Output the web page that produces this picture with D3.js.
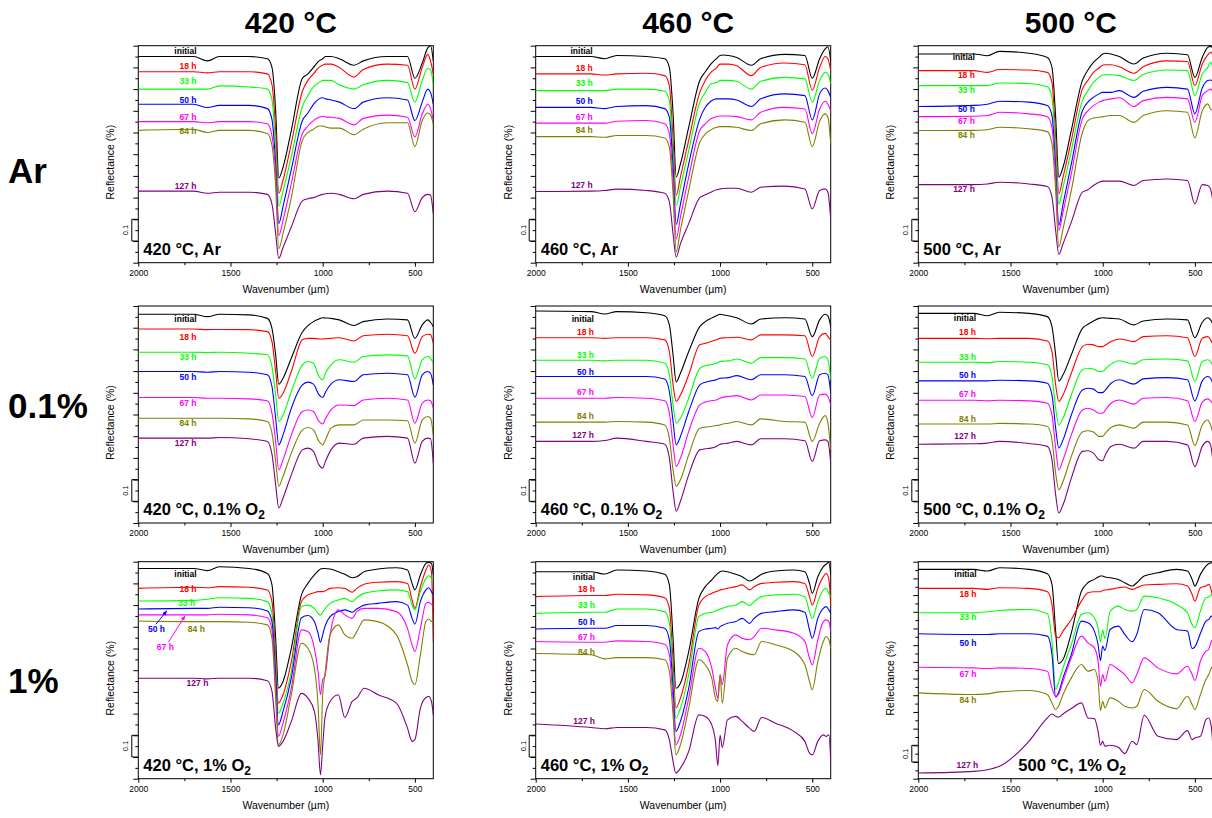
<!DOCTYPE html>
<html>
<head>
<meta charset="utf-8">
<script src="https://cdn.jsdelivr.net/npm/d3@7"></script>
<style>
  body { margin: 0; background: #fff; }
  text { font-family: Arial, "Liberation Sans", sans-serif; }
</style>
</head>
<body>
<svg id="chart" width="1212" height="818"></svg>
<script>
// column / row headings and curve names
var temps = ["420 °C", "460 °C", "500 °C"];
var atmos = ["Ar", "0.1%", "1%"];
var gasLabel = ["Ar", "0.1% O", "1% O"];
var times = ["initial", "18 h", "33 h", "50 h", "67 h", "84 h", "127 h"];
var colors = ["#000000", "#ff0000", "#00ff00", "#0000ff", "#ff00ff", "#808000", "#800080"];

// wavenumber grids the spectra were read on
var wnA = [2000,1700,1625,1560,1400,1300,1275,1255,1238,1215,1170,1110,1080,1050,1020,1000,985,955,910,830,780,650,540,500,460,430,415,400];
var wnB = [2000,1700,1625,1560,1400,1300,1275,1255,1240,1215,1170,1115,1080,1045,1025,1012,1000,988,960,915,880,840,815,775,700,600,540,515,500,470,440,425,410,400];

// Ar, read on wnA (order: initial, 18, 33, 50, 67, 84, 127 h)
var ar420 = [
  [.95,.95,.93,.95,.95,.94,.90,.70,.39,.44,.61,.85,.87,.90,.93,.94,.95,.95,.94,.91,.93,.95,.95,.85,.92,.99,1.0,.93],
  [.88,.88,.875,.88,.88,.87,.82,.61,.32,.38,.55,.79,.84,.87,.90,.91,.915,.915,.90,.855,.89,.915,.91,.80,.90,.96,.93,.87],
  [.80,.80,.80,.815,.81,.80,.75,.53,.26,.33,.49,.72,.77,.81,.83,.84,.84,.84,.82,.80,.82,.84,.83,.74,.84,.895,.89,.82],
  [.73,.73,.715,.725,.725,.71,.66,.455,.18,.26,.43,.655,.69,.73,.755,.76,.755,.75,.74,.71,.74,.76,.75,.655,.74,.80,.785,.73],
  [.65,.65,.645,.65,.65,.64,.585,.41,.125,.195,.365,.595,.63,.655,.67,.675,.672,.67,.665,.635,.665,.68,.67,.58,.685,.73,.71,.655],
  [.61,.615,.60,.61,.61,.595,.54,.35,.065,.135,.30,.565,.60,.615,.63,.63,.625,.62,.62,.59,.615,.645,.645,.535,.655,.69,.68,.64],
  [.33,.33,.32,.325,.325,.315,.27,.135,.02,.07,.165,.285,.295,.30,.31,.315,.318,.32,.315,.295,.315,.33,.32,.235,.30,.315,.31,.225]
];
var ar460 = [
  [.95,.95,.94,.955,.95,.94,.90,.69,.395,.455,.625,.84,.88,.915,.94,.955,.957,.955,.946,.91,.94,.96,.955,.85,.94,.985,.995,.93],
  [.87,.87,.865,.87,.873,.862,.815,.565,.31,.395,.565,.785,.84,.877,.897,.915,.915,.915,.908,.862,.90,.92,.912,.795,.90,.95,.94,.885],
  [.793,.793,.793,.80,.80,.79,.747,.50,.264,.348,.517,.74,.785,.824,.83,.84,.84,.84,.836,.80,.836,.854,.847,.74,.84,.877,.87,.824],
  [.716,.716,.71,.72,.724,.71,.67,.44,.176,.27,.455,.663,.716,.744,.755,.755,.755,.755,.75,.72,.755,.778,.77,.658,.778,.805,.793,.762],
  [.643,.643,.643,.652,.655,.64,.594,.38,.11,.21,.394,.61,.64,.663,.673,.676,.676,.676,.673,.658,.693,.716,.708,.594,.708,.744,.73,.70],
  [.581,.581,.578,.586,.586,.575,.532,.317,.05,.15,.333,.555,.594,.612,.624,.627,.627,.627,.624,.609,.64,.658,.647,.535,.652,.686,.67,.548],
  [.328,.33,.333,.339,.333,.32,.28,.133,.026,.087,.18,.30,.313,.325,.336,.34,.342,.343,.343,.325,.348,.353,.34,.248,.333,.34,.325,.20]
];
var ar500 = [
  [.962,.962,.954,.974,.965,.946,.90,.67,.394,.44,.61,.84,.888,.923,.946,.962,.965,.962,.95,.916,.943,.965,.958,.854,.946,.992,.997,.985],
  [.885,.885,.877,.89,.888,.877,.83,.578,.317,.394,.563,.80,.84,.877,.897,.91,.912,.912,.903,.873,.903,.93,.927,.816,.916,.958,.97,.954],
  [.816,.816,.816,.828,.826,.811,.762,.517,.268,.348,.517,.747,.793,.831,.854,.865,.866,.866,.862,.84,.867,.888,.885,.77,.87,.90,.923,.893],
  [.72,.725,.73,.744,.74,.724,.678,.44,.172,.27,.455,.70,.74,.762,.778,.785,.785,.785,.793,.762,.79,.808,.80,.686,.805,.84,.842,.83],
  [.673,.675,.678,.693,.686,.673,.624,.394,.149,.233,.41,.663,.70,.724,.74,.747,.75,.755,.76,.72,.747,.762,.755,.647,.77,.793,.80,.785],
  [.609,.61,.613,.624,.617,.604,.548,.333,.072,.156,.333,.60,.655,.667,.67,.673,.675,.678,.678,.647,.678,.70,.693,.575,.70,.732,.709,.70],
  [.36,.36,.363,.371,.363,.351,.302,.149,.038,.087,.187,.325,.336,.356,.371,.376,.376,.376,.376,.356,.379,.386,.379,.271,.36,.356,.34,.271]
];

// 0.1% O2, read on wnA
var o01_420 = [
  [.962,.962,.951,.962,.959,.943,.897,.775,.64,.667,.76,.88,.91,.928,.94,.946,.945,.943,.936,.91,.928,.94,.936,.851,.913,.936,.925,.905],
  [.894,.894,.891,.892,.891,.882,.836,.698,.575,.598,.698,.844,.851,.851,.848,.848,.849,.851,.854,.839,.863,.87,.863,.782,.859,.87,.868,.828],
  [.787,.787,.786,.787,.782,.775,.721,.59,.468,.498,.606,.729,.744,.736,.675,.66,.69,.729,.752,.741,.767,.775,.77,.664,.752,.767,.759,.736],
  [.698,.698,.695,.698,.695,.683,.629,.483,.36,.406,.529,.636,.649,.64,.59,.578,.603,.64,.66,.652,.683,.69,.683,.58,.683,.698,.69,.636],
  [.578,.578,.575,.575,.572,.563,.506,.376,.245,.291,.406,.514,.521,.514,.468,.456,.48,.521,.544,.541,.567,.575,.567,.46,.552,.567,.563,.529],
  [.483,.483,.483,.483,.48,.468,.414,.284,.169,.215,.322,.429,.44,.429,.376,.36,.383,.437,.452,.452,.475,.475,.471,.368,.475,.491,.483,.406],
  [.391,.391,.391,.394,.388,.376,.317,.176,.069,.115,.222,.337,.345,.33,.268,.253,.284,.337,.368,.363,.391,.399,.391,.276,.376,.391,.388,.276]
];
var o01_460 = [
  [.977,.974,.963,.974,.969,.955,.913,.775,.65,.69,.79,.905,.928,.943,.955,.962,.960,.955,.946,.917,.94,.946,.94,.859,.936,.962,.955,.905],
  [.854,.854,.851,.854,.854,.844,.79,.637,.56,.59,.683,.821,.828,.836,.844,.851,.853,.854,.856,.844,.867,.867,.863,.767,.859,.874,.859,.844],
  [.75,.75,.747,.75,.75,.736,.683,.544,.46,.483,.575,.713,.725,.729,.736,.744,.746,.747,.756,.736,.762,.762,.756,.667,.759,.767,.752,.66],
  [.675,.675,.675,.675,.675,.664,.606,.468,.36,.399,.514,.636,.649,.655,.66,.667,.668,.67,.679,.66,.683,.683,.675,.587,.683,.69,.683,.598],
  [.575,.575,.575,.578,.575,.563,.506,.36,.261,.299,.422,.544,.557,.563,.567,.575,.579,.583,.587,.567,.59,.59,.583,.486,.59,.594,.583,.544],
  [.465,.465,.465,.468,.465,.452,.391,.245,.169,.199,.314,.437,.442,.445,.449,.452,.456,.46,.468,.452,.48,.468,.465,.376,.46,.495,.46,.337],
  [.376,.376,.38,.391,.376,.363,.299,.146,.054,.10,.222,.337,.342,.345,.353,.363,.365,.368,.376,.36,.388,.388,.379,.284,.379,.383,.376,.276]
];
var o01_500 = [
  [.966,.966,.955,.971,.966,.951,.905,.775,.655,.683,.775,.897,.916,.931,.943,.946,.945,.943,.94,.913,.931,.94,.936,.854,.925,.946,.936,.913],
  [.851,.851,.849,.851,.851,.839,.79,.637,.56,.59,.69,.813,.824,.821,.813,.813,.82,.836,.848,.836,.859,.863,.854,.767,.851,.859,.844,.82],
  [.741,.741,.739,.744,.741,.729,.675,.529,.452,.483,.59,.706,.713,.71,.698,.698,.71,.732,.748,.732,.752,.756,.747,.652,.744,.752,.744,.721],
  [.655,.655,.655,.658,.655,.644,.59,.437,.345,.383,.498,.613,.621,.617,.601,.601,.613,.644,.66,.64,.664,.67,.66,.563,.655,.675,.667,.636],
  [.566,.566,.563,.566,.563,.552,.498,.345,.245,.291,.406,.521,.529,.521,.506,.506,.521,.552,.567,.548,.575,.578,.563,.468,.557,.572,.563,.544],
  [.456,.456,.456,.459,.456,.445,.383,.23,.153,.192,.307,.419,.425,.419,.399,.399,.414,.44,.452,.437,.465,.465,.452,.357,.452,.475,.452,.406],
  [.363,.365,.368,.376,.366,.353,.291,.13,.046,.084,.207,.33,.333,.322,.291,.287,.314,.353,.363,.345,.376,.376,.36,.26,.353,.376,.36,.268]
];

// 1% O2, read on wnB
var o1_420 = [
  [.969,.969,.959,.977,.969,.946,.893,.647,.417,.448,.601,.847,.90,.939,.957,.966,.969,.969,.966,.954,.942,.926,.931,.954,.966,.972,.962,.90,.87,.939,.992,.997,.992,.939],
  [.877,.882,.88,.885,.882,.87,.816,.571,.348,.387,.54,.816,.847,.857,.862,.862,.862,.865,.877,.88,.877,.859,.877,.896,.905,.908,.90,.824,.785,.885,.962,.985,.954,.632],
  [.819,.822,.827,.834,.831,.816,.762,.525,.302,.348,.494,.793,.80,.785,.762,.755,.767,.782,.808,.824,.831,.816,.834,.854,.865,.87,.862,.80,.778,.862,.923,.936,.923,.908],
  [.782,.785,.785,.79,.788,.773,.724,.479,.248,.31,.463,.742,.752,.724,.67,.629,.663,.701,.747,.77,.778,.767,.782,.80,.808,.816,.80,.739,.712,.816,.87,.88,.862,.847],
  [.755,.755,.755,.758,.755,.742,.686,.417,.195,.256,.417,.686,.678,.601,.494,.387,.456,.471,.663,.778,.755,.739,.77,.785,.785,.77,.693,.617,.586,.693,.808,.813,.804,.80],
  [.727,.724,.724,.724,.721,.709,.647,.371,.156,.202,.387,.624,.601,.509,.34,.11,.387,.479,.663,.709,.663,.647,.678,.732,.724,.663,.525,.448,.433,.571,.724,.736,.724,.74],
  [.463,.463,.46,.463,.463,.451,.402,.233,.149,.172,.264,.393,.371,.31,.172,.018,.15,.279,.356,.387,.282,.356,.371,.417,.387,.348,.233,.172,.18,.325,.374,.379,.356,.294]
];
var o1_460 = [
  [.954,.954,.943,.962,.957,.942,.893,.647,.417,.44,.586,.831,.885,.916,.936,.946,.954,.957,.954,.942,.931,.911,.92,.942,.957,.962,.954,.90,.854,.931,.977,.988,.997,.939],
  [.839,.844,.844,.85,.847,.834,.785,.54,.325,.371,.525,.80,.839,.854,.862,.865,.87,.872,.877,.885,.893,.87,.885,.90,.905,.908,.90,.839,.80,.877,.931,.946,.92,.80],
  [.762,.767,.767,.782,.782,.77,.716,.479,.279,.325,.479,.747,.762,.767,.773,.778,.782,.785,.793,.80,.816,.798,.816,.839,.847,.85,.839,.77,.739,.816,.87,.877,.854,.839],
  [.69,.693,.693,.706,.706,.693,.64,.417,.218,.264,.417,.678,.69,.693,.696,.69,.701,.706,.716,.724,.739,.716,.739,.762,.77,.778,.767,.686,.647,.739,.785,.793,.778,.762],
  [.632,.629,.629,.635,.632,.62,.571,.356,.156,.202,.371,.601,.586,.509,.417,.371,.479,.433,.617,.663,.647,.64,.655,.693,.686,.67,.632,.555,.525,.64,.724,.732,.724,.678],
  [.577,.571,.552,.558,.558,.548,.494,.294,.11,.156,.325,.548,.525,.463,.371,.356,.479,.348,.555,.601,.586,.574,.571,.632,.617,.586,.525,.448,.41,.54,.632,.655,.64,.601],
  [.252,.236,.23,.236,.236,.225,.179,.08,.026,.049,.126,.294,.287,.248,.172,.061,.20,.144,.271,.287,.264,.233,.218,.282,.256,.218,.172,.118,.11,.172,.202,.195,.202,.087]
];
var o1_500 = [
  [1.254,1.254,1.244,1.264,1.254,1.228,1.164,.884,.69,.714,.874,1.124,1.174,1.194,1.208,1.214,1.214,1.208,1.204,1.194,1.174,1.154,1.174,1.214,1.234,1.254,1.244,1.194,1.154,1.224,1.274,1.288,1.294,1.274],
  [1.14,1.14,1.134,1.144,1.14,1.12,1.044,.854,.844,.884,.954,1.064,1.114,1.12,1.12,1.12,1.128,1.13,1.134,1.144,1.148,1.134,1.144,1.16,1.164,1.168,1.154,1.104,1.064,1.144,1.154,1.164,1.124,1.064],
  [.994,.994,1.0,1.008,1.014,.988,.824,.534,.574,.664,.804,.984,.994,.964,.904,.82,.89,.84,1.0,1.034,1.014,1.004,1.014,1.094,1.084,1.044,.994,.924,.904,1.004,1.084,1.088,1.104,1.114],
  [.868,.864,.864,.868,.868,.854,.744,.488,.514,.604,.744,.944,.934,.884,.804,.708,.794,.768,.894,.914,.864,.82,.864,1.014,.994,.894,.884,.78,.79,.87,.944,.954,.974,.974],
  [.668,.664,.66,.664,.66,.644,.544,.494,.504,.584,.724,.854,.814,.784,.704,.554,.624,.584,.684,.654,.624,.574,.624,.724,.664,.628,.674,.624,.588,.704,.764,.774,.824,.834],
  [.514,.504,.508,.52,.528,.504,.454,.414,.434,.504,.604,.684,.644,.654,.584,.408,.464,.424,.484,.464,.434,.424,.434,.534,.464,.42,.494,.444,.414,.504,.594,.624,.664,.674],
  [.034,.044,.054,.074,.224,.364,.388,.374,.368,.388,.42,.454,.364,.36,.284,.20,.224,.194,.20,.188,.15,.224,.204,.38,.254,.234,.288,.234,.244,.254,.354,.364,.304,.144]
];

// y-range of each panel (the 500 °C, 1% one is taller)
var yMax = [1, 1, 1, 1, 1, 1, 1, 1, 1.3];

// curve label anchors (wavenumber of right end, reflectance)
var lblWn = [
  [1684,1684,1684,1684,1684,1684,1684],
  [1691,1691,1691,1691,1691,1691,1691],
  [1693,1693,1693,1693,1693,1693,1693],
  [1684,1684,1684,1684,1684,1684,1684],
  [1684,1684,1684,1684,1684,1684,1684],
  [1687,1687,1687,1687,1687,1687,1687],
  [1684,1684,1692,1855,1807,1639,1620],
  [1678,1678,1678,1678,1678,1678,1678],
  [1684,1684,1684,1684,1684,1684,1675]
];
var lblVal = [
  [.974,.908,.836,.75,.673,.609,.353],
  [.974,.896,.827,.744,.673,.612,.359],
  [.946,.865,.796,.709,.655,.59,.339],
  [.939,.856,.764,.672,.552,.46,.368],
  [.939,.882,.775,.695,.603,.495,.406],
  [.943,.882,.767,.683,.595,.479,.399],
  [.943,.873,.811,.689,.609,.69,.44],
  [.928,.873,.80,.724,.655,.586,.264],
  [1.224,1.104,.97,.814,.63,.47,.08]
];
// pointer arrows in the 420 °C, 1% panel: [wn1, v1, wn2, v2, curve index]
var arrows = [[1904, .712, 1846, .773, 3], [1837, .629, 1747, .75, 4]];

var spectra = [ar420, ar460, ar500, o01_420, o01_460, o01_500, o1_420, o1_460, o1_500];

var svg = d3.select("#chart");
var colX = [138.3, 535.7, 918.3];
var rowY = [45.7, 306, 561.7];
var pw = 295, ph = 217;

var defs = svg.append("defs");
colors.forEach(function (c, i) {
  defs.append("marker")
      .attr("id", "arr" + i)
      .attr("viewBox", "0 0 10 10")
      .attr("refX", 9).attr("refY", 5)
      .attr("markerWidth", 5).attr("markerHeight", 5)
      .attr("orient", "auto")
    .append("path")
      .attr("d", "M0,1L10,5L0,9Z")
      .attr("fill", c);
});

// headings
svg.selectAll(".colTitle")
    .data(temps)
    .enter().append("text")
    .attr("class", "colTitle")
    .attr("x", function (d, i) { return colX[i] + pw / 2 + 5; })
    .attr("y", 33)
    .attr("text-anchor", "middle")
    .attr("font-weight", "bold")
    .attr("font-size", 30)
    .text(function (d) { return d; });

var rowBase = [183, 418, 693];
svg.selectAll(".rowTitle")
    .data(atmos)
    .enter().append("text")
    .attr("class", "rowTitle")
    .attr("x", 8)
    .attr("y", function (d, i) { return rowBase[i]; })
    .attr("font-weight", "bold")
    .attr("font-size", 35)
    .text(function (d) { return d; });

spectra.forEach(function (curves, k) {
  var col = k % 3, row = Math.floor(k / 3);
  var wn = row < 2 ? wnA : wnB;
  var g = svg.append("g")
      .attr("transform", "translate(" + colX[col] + "," + rowY[row] + ")");

  var x = d3.scaleLinear().domain([2000, 400]).range([0, pw]);
  var y = d3.scaleLinear().domain([0, yMax[k]]).range([ph, 0]);

  g.append("clipPath").attr("id", "clip" + k)
    .append("rect").attr("width", pw).attr("height", ph);

  // x axis: major + minor ticks
  var xMaj = g.append("g")
      .attr("transform", "translate(0," + ph + ")")
      .call(d3.axisBottom(x).tickValues([2000, 1500, 1000, 500])
        .tickFormat(d3.format("d")).tickSize(4).tickPadding(3));
  g.append("g")
      .attr("transform", "translate(0," + ph + ")")
      .call(d3.axisBottom(x).tickValues([1750, 1250, 750]).tickSize(2.5).tickFormat(""));
  xMaj.selectAll("text").attr("font-size", 8.5).attr("font-family", "Arial, 'Liberation Sans', sans-serif");

  // y axis: unlabeled ticks
  var nMaj = Math.round(yMax[k] / 0.1);
  g.append("g")
      .call(d3.axisLeft(y).tickValues(d3.range(0, nMaj + 1).map(function (i) { return i * 0.1; }))
        .tickSize(5).tickFormat(""));
  g.append("g")
      .call(d3.axisLeft(y).tickValues(d3.range(0, nMaj).map(function (i) { return i * 0.1 + 0.05; }))
        .tickSize(3).tickFormat(""));
  g.selectAll(".domain").remove();
  g.selectAll(".tick line").attr("stroke", "#000");

  // frame
  g.append("rect")
      .attr("width", pw).attr("height", ph)
      .attr("fill", "none").attr("stroke", "#000").attr("stroke-width", 1);

  // axis titles
  g.append("text")
      .attr("x", pw / 2).attr("y", ph + 30)
      .attr("text-anchor", "middle")
      .attr("font-size", 10.5)
      .text("Wavenumber (µm)");
  g.append("text")
      .attr("transform", "translate(-24," + (ph / 2 + 8) + ") rotate(-90)")
      .attr("text-anchor", "middle")
      .attr("font-size", 10.5)
      .text("Reflectance (%)");

  // 0.1 scale bar
  var bx = -6.5;
  g.append("path")
      .attr("d", "M" + (bx + 6) + "," + y(0.2) + "H" + bx + "V" + y(0.1) + "H" + (bx + 6))
      .attr("fill", "none").attr("stroke", "#000").attr("stroke-width", 1);
  g.append("text")
      .attr("transform", "translate(-10," + y(0.15) + ") rotate(-90)")
      .attr("text-anchor", "middle")
      .attr("font-size", 7.5)
      .text("0.1");

  // spectra
  var line = d3.line()
      .x(function (d) { return x(d[0]); })
      .y(function (d) { return y(d[1]); })
      .curve(d3.curveMonotoneX);

  g.append("g").attr("clip-path", "url(#clip" + k + ")")
    .selectAll(".spec")
    .data(curves)
    .enter().append("path")
      .attr("class", "spec")
      .attr("d", function (vals) { return line(d3.zip(wn, vals)); })
      .attr("fill", "none")
      .attr("stroke", function (d, i) { return colors[i]; })
      .attr("stroke-width", 1.1);

  // curve labels
  g.selectAll(".lbl")
    .data(times)
    .enter().append("text")
      .attr("class", "lbl")
      .attr("x", function (d, i) { return x(lblWn[k][i]); })
      .attr("y", function (d, i) { return y(lblVal[k][i]); })
      .attr("dy", "0.35em")
      .attr("text-anchor", "end")
      .attr("font-size", 8.5)
      .attr("font-weight", "bold")
      .attr("fill", function (d, i) { return colors[i]; })
      .text(function (d) { return d; });

  if (k === 6) {
    g.selectAll(".arrow")
      .data(arrows)
      .enter().append("line")
        .attr("x1", function (d) { return x(d[0]); })
        .attr("y1", function (d) { return y(d[1]); })
        .attr("x2", function (d) { return x(d[2]); })
        .attr("y2", function (d) { return y(d[3]); })
        .attr("stroke", function (d) { return colors[d[4]]; })
        .attr("stroke-width", 1)
        .attr("marker-end", function (d) { return "url(#arr" + d[4] + ")"; });
  }

  // panel caption
  var cap = g.append("text")
      .attr("x", k === 8 ? 100 : 5)
      .attr("y", ph - 8)
      .attr("font-size", 16.5)
      .attr("font-weight", "bold");
  cap.append("tspan").text(temps[col] + ", " + gasLabel[row]);
  if (row > 0) cap.append("tspan").attr("dy", 4).attr("font-size", 12).text("2");
});
</script>
</body>
</html>
